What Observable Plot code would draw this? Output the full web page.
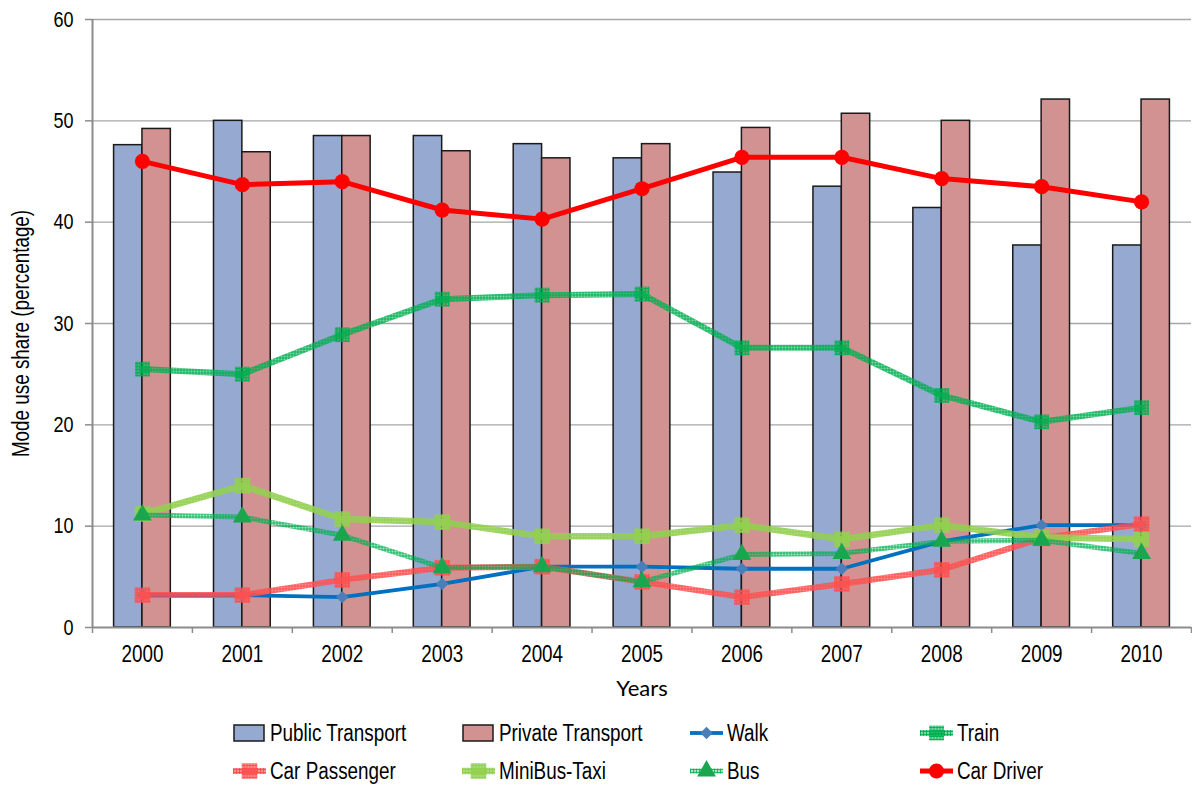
<!DOCTYPE html>
<html>
<head>
<meta charset="utf-8">
<script src="https://cdn.jsdelivr.net/npm/d3@7"></script>
<script src="https://cdn.jsdelivr.net/npm/@observablehq/plot@0.6"></script>
<style>
  body { margin: 0; background: #fff; }
  #chart { position: relative; width: 1192px; height: 785px; font-family: "Liberation Sans", Arial, sans-serif; }
  #legend { position: relative; width: 1192px; height: 77px; }
  .item { position: absolute; display: flex; align-items: center; font-size: 23px; color: #000; height: 30px; transform: translateY(-50%); white-space: nowrap; }
  .item svg { margin-right: 4px; flex: none; }
  .item span { display: inline-block; transform: scaleX(0.82); transform-origin: 0 50%; }
</style>
</head>
<body>
<div id="chart"></div>
<script>
// Mode use share (%) by year
const years = [2000, 2001, 2002, 2003, 2004, 2005, 2006, 2007, 2008, 2009, 2010];
const publicTransport  = [47.6, 50.0, 48.5, 48.5, 47.7, 46.3, 44.9, 43.5, 41.4, 37.7, 37.7];
const privateTransport = [49.2, 46.9, 48.5, 47.0, 46.3, 47.7, 49.3, 50.7, 50.0, 52.1, 52.1];
const walk         = [3.2, 3.2, 3.0, 4.3, 6.0, 6.0, 5.8, 5.8, 8.5, 10.1, 10.1];
const train        = [25.5, 25.0, 28.9, 32.4, 32.8, 32.9, 27.6, 27.6, 22.9, 20.3, 21.7];
const carPassenger = [3.2, 3.2, 4.7, 5.9, 6.0, 4.5, 3.0, 4.3, 5.7, 8.8, 10.2];
const minibusTaxi  = [11.2, 14.0, 10.7, 10.4, 9.0, 9.0, 10.1, 8.7, 10.1, 8.9, 8.7];
const bus          = [11.1, 10.9, 9.1, 5.9, 6.0, 4.5, 7.2, 7.3, 8.5, 8.6, 7.3];
const carDriver    = [46.0, 43.7, 44.0, 41.2, 40.3, 43.3, 46.4, 46.4, 44.3, 43.5, 42.0];
const yTicks = [0, 10, 20, 30, 40, 50, 60];

const rows = (values) => years.map((year, i) => ({year, value: values[i]}));
const barWidth = 0.284; // each bar's width, in years

// textured (small grid) fills for the hatched series
const textures = [
  {id: "tex-train", color: "#00b050", base: 0.5, grid: 0.9},
  {id: "tex-carpass", color: "#ff5050", base: 0.65, grid: 0.95},
  {id: "tex-minibus", color: "#92d050", base: 0.75, grid: 1},
  {id: "tex-bus", color: "#00b050", base: 0.35, grid: 0.8}
];

const lineSeries = [
  {name: "Walk", values: walk, stroke: "#0070c0", width: 3.8, symbol: "diamond2", r: 5.6, fill: "#4a7ebb"},
  {name: "Train", values: train, stroke: "url(#tex-train)", width: 6, symbol: "square", r: 8.4, fill: "url(#tex-train)"},
  {name: "Car Passenger", values: carPassenger, stroke: "url(#tex-carpass)", width: 6, symbol: "square", r: 8.8, fill: "url(#tex-carpass)"},
  {name: "MiniBus-Taxi", values: minibusTaxi, stroke: "url(#tex-minibus)", width: 6.5, symbol: "square", r: 8.8, fill: "url(#tex-minibus)"},
  {name: "Bus", values: bus, stroke: "url(#tex-bus)", width: 5, symbol: "triangle", r: 7, fill: "#1aa64e"},
  {name: "Car Driver", values: carDriver, stroke: "#ff0000", width: 5, symbol: "circle", r: 7.6, fill: "#ff0000"}
];

const axisGray = "#8c8c8c";
const boundaries = years.map(y => y - 0.5).concat([years[years.length - 1] + 0.5]);

const marks = [
  Plot.gridY(yTicks.slice(1), {stroke: "#a6a6a6", strokeOpacity: 1, strokeWidth: 1.4}),
  Plot.rect(rows(publicTransport), {x1: d => d.year - barWidth, x2: "year", y1: 0, y2: "value", fill: "#95a9d1", stroke: "#1a1a1a", strokeWidth: 1.5}),
  Plot.rect(rows(privateTransport), {x1: "year", x2: d => d.year + barWidth, y1: 0, y2: "value", fill: "#d29291", stroke: "#1a1a1a", strokeWidth: 1.5}),
  Plot.ruleY([0], {stroke: axisGray, strokeWidth: 2}),
  Plot.ruleX([boundaries[0]], {stroke: axisGray, strokeWidth: 2}),
  Plot.axisY(yTicks, {tickSize: 7, tickPadding: 12, stroke: axisGray, strokeWidth: 1.5, fill: "#000", fontSize: 22, label: null, className: "narrow"}),
  Plot.axisX(boundaries, {tickSize: 6, stroke: axisGray, strokeWidth: 1.5, tickFormat: () => "", label: null}),
  Plot.axisX(years, {tickSize: 0, tickPadding: 18, fill: "#000", fontSize: 23, tickFormat: d => String(d), label: null, className: "narrow"})
];

for (const s of lineSeries) {
  marks.push(Plot.line(rows(s.values), {x: "year", y: "value", stroke: s.stroke, strokeWidth: s.width, curve: "linear"}));
  marks.push(Plot.dot(rows(s.values), {x: "year", y: "value", symbol: s.symbol, r: s.r, fill: s.fill, stroke: "none"}));
}

marks.push(Plot.text(["Mode use share (percentage)"], {frameAnchor: "left", textAnchor: "middle", rotate: -90, dx: -71, dy: 10, fontSize: 23, fill: "#000", className: "narrow"}));
marks.push(Plot.text(["Years"], {frameAnchor: "bottom", dy: 68, fontSize: 22, fontFamily: "Lato, sans-serif", fill: "#000"}));

const chart = Plot.plot({
  width: 1192,
  height: 708,
  marginLeft: 92,
  marginRight: 1,
  marginTop: 19,
  marginBottom: 81,
  style: {fontFamily: "'Liberation Sans', Arial, sans-serif", background: "#fff"},
  x: {type: "linear", domain: [boundaries[0], boundaries[boundaries.length - 1]], axis: null},
  y: {domain: [0, 60], axis: null},
  marks
});

const root = document.getElementById("chart");
root.appendChild(chart);

// pattern definitions shared by the chart and the legend swatches
const ns = "http://www.w3.org/2000/svg";
function addTextures(svg) {
  const defs = document.createElementNS(ns, "defs");
  for (const t of textures) {
    const p = document.createElementNS(ns, "pattern");
    p.setAttribute("id", t.id);
    p.setAttribute("patternUnits", "userSpaceOnUse");
    p.setAttribute("width", 3);
    p.setAttribute("height", 3);
    const bg = document.createElementNS(ns, "rect");
    bg.setAttribute("width", 3); bg.setAttribute("height", 3);
    bg.setAttribute("fill", t.color); bg.setAttribute("fill-opacity", t.base);
    p.appendChild(bg);
    for (const [w, h] of [[3, 1], [1, 3]]) {
      const g = document.createElementNS(ns, "rect");
      g.setAttribute("width", w); g.setAttribute("height", h);
      g.setAttribute("fill", t.color); g.setAttribute("fill-opacity", t.grid);
      p.appendChild(g);
    }
    defs.appendChild(p);
  }
  svg.insertBefore(defs, svg.firstChild);
}
addTextures(chart);

// condensed lettering: squeeze text horizontally about its anchor
chart.querySelectorAll(".narrow text").forEach(t => {
  const bb = t.getBBox();
  const anchor = getComputedStyle(t).textAnchor;
  const ax = anchor === "end" ? bb.x + bb.width : anchor === "middle" ? bb.x + bb.width / 2 : bb.x;
  const prev = t.getAttribute("transform") || "";
  t.setAttribute("transform", `${prev} translate(${ax},0) scale(0.82,1) translate(${-ax},0)`);
});

// Legend
const colX = [233, 462, 690, 920];
const rowY = [25, 63];
const legend = document.createElement("div");
legend.id = "legend";
root.appendChild(legend);

function swatch(item) {
  const svg = document.createElementNS(ns, "svg");
  svg.setAttribute("width", 33);
  svg.setAttribute("height", 22);
  if (item.kind === "bar") {
    const r = document.createElementNS(ns, "rect");
    r.setAttribute("x", 1); r.setAttribute("y", 3); r.setAttribute("width", 30); r.setAttribute("height", 16);
    r.setAttribute("fill", item.fill); r.setAttribute("stroke", "#1a1a1a"); r.setAttribute("stroke-width", 1.5);
    svg.appendChild(r);
  } else {
    const l = document.createElementNS(ns, "rect");
    l.setAttribute("x", 0); l.setAttribute("width", 33);
    l.setAttribute("y", 11 - item.width / 2); l.setAttribute("height", item.width);
    l.setAttribute("fill", item.stroke);
    svg.appendChild(l);
    const sym = {circle: d3.symbolCircle, square: d3.symbolSquare, diamond2: d3.symbolDiamond2, triangle: d3.symbolTriangle}[item.symbol];
    const p = document.createElementNS(ns, "path");
    p.setAttribute("d", d3.symbol(sym, Math.PI * item.r * item.r)());
    p.setAttribute("transform", "translate(16.5,11)");
    p.setAttribute("fill", item.fill);
    svg.appendChild(p);
  }
  return svg;
}

const legendItems = [
  {name: "Public Transport", kind: "bar", fill: "#95a9d1"},
  {name: "Private Transport", kind: "bar", fill: "#d29291"},
  ...lineSeries.map(s => ({...s, kind: "line"}))
];
const order = ["Public Transport", "Private Transport", "Walk", "Train", "Car Passenger", "MiniBus-Taxi", "Bus", "Car Driver"];
order.forEach((name, i) => {
  const item = legendItems.find(d => d.name === name);
  const div = document.createElement("div");
  div.className = "item";
  div.style.left = colX[i % 4] + "px";
  div.style.top = rowY[Math.floor(i / 4)] + "px";
  div.appendChild(swatch(item));
  const span = document.createElement("span");
  span.textContent = name;
  div.appendChild(span);
  legend.appendChild(div);
});
</script>
</body>
</html>
